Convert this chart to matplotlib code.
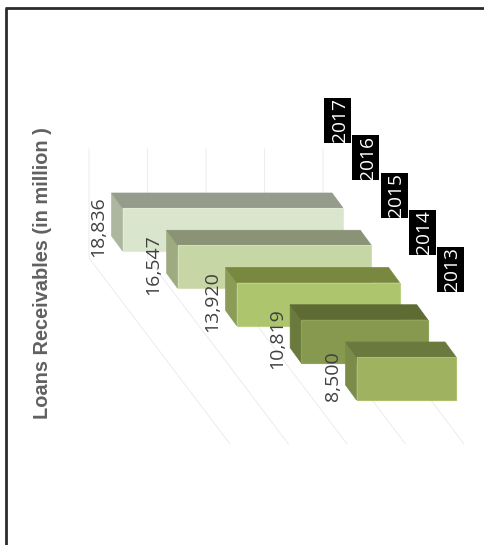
import matplotlib
matplotlib.use("Agg")
import matplotlib.pyplot as plt
from matplotlib.patches import Polygon, Rectangle
from matplotlib.lines import Line2D

# Data
years = ["2017", "2016", "2015", "2014", "2013"]
values = [18836, 16547, 13920, 10819, 8500]
value_labels = ["18,836", "16,547", "13,920", "10,819", "8,500"]
grid_values = [0, 5000, 10000, 15000, 20000]
axis_title = "Loans Receivables (in million )"

front_colors = ["#d9e5cc", "#c6d6a5", "#adc66d", "#86994f", "#9fb25f"]
top_colors = ["#969c8c", "#8a9375", "#78893f", "#5e6b33", "#6a7a3f"]
side_colors = ["#adb79f", "#9eaa80", "#8a9c55", "#6a7a3c", "#7a8c48"]
edge_colors = ["#e2ebd8", "#d2dfb8", "#bcd184", "#8fa35a", "#adc06c"]

W, H = 484, 545
PX_PER_VALUE = 0.0117      # px per value unit
PX_BAND = 37.25            # px per category step
BASE_PX = 343.0            # x px of zero for the first bar
TOP_PX = 208.0             # y px of the first bar's front top

fig = plt.figure(figsize=(W / 100, H / 100), dpi=100)
ax = fig.add_axes([0, 0, 1, 1])
ax.set_xlim(BASE_PX / PX_PER_VALUE, (BASE_PX - W) / PX_PER_VALUE)
ax.set_ylim((H - TOP_PX) / PX_BAND, -TOP_PX / PX_BAND)
ax.axis("off")

SHIFT_X = -28.25 / PX_PER_VALUE   # shift per category
DEPTH_X = 11.0 / PX_PER_VALUE     # depth shear, value units
DEPTH_Y = -15.0 / PX_BAND         # depth shear, band units
BAR_H = 43.0 / PX_BAND
GRID_SHIFT = 20.0 / PX_PER_VALUE
GRID_TOP = -59.0 / PX_BAND
GRID_MID = 50.0 / PX_BAND
GRID_END = 236.0 / PX_BAND
GRID_RUN = -141.0 / PX_PER_VALUE
BOX_W = 27.0 / PX_PER_VALUE
BOX_H = 45.0 / PX_BAND

# Gridlines: back wall and floor
for g in grid_values:
    xb = g + GRID_SHIFT
    ax.plot([xb, xb, xb + GRID_RUN], [GRID_TOP, GRID_MID, GRID_END],
            color="#ececec", lw=0.7, zorder=1, solid_joinstyle="miter")

# Bars
for i, (v, f, t, s, e) in enumerate(zip(values, front_colors, top_colors, side_colors, edge_colors)):
    x0 = i * SHIFT_X          # zero end
    x1 = x0 + v               # value end
    y0 = float(i)
    y1 = y0 + BAR_H
    dx, dy = DEPTH_X, DEPTH_Y
    z = 2 + i
    ax.add_patch(Polygon([(x1, y0), (x1 + dx, y0 + dy), (x1 + dx, y1 + dy), (x1, y1)],
                         closed=True, fc=s, ec=s, lw=0.5, zorder=z))
    ax.add_patch(Polygon([(x1, y0), (x1 + dx, y0 + dy), (x0 + dx, y0 + dy), (x0, y0)],
                         closed=True, fc=t, ec=t, lw=0.5, zorder=z))
    ax.add_patch(Polygon([(x1, y0), (x0, y0), (x0, y1), (x1, y1)],
                         closed=True, fc=f, ec=e, lw=0.8, zorder=z))
    # value label
    ax.text(x1 + dx + 13.0 / PX_PER_VALUE, y0 + 19.0 / PX_BAND, value_labels[i],
            rotation=90, ha="center", va="center", family="Open Sans",
            fontsize=14, color="#404040", zorder=20)
    # year label on its black box
    cx = x0 + 5.5 / PX_PER_VALUE
    cy = y0 - 87.5 / PX_BAND
    ax.add_patch(Rectangle((cx - BOX_W / 2, cy - BOX_H / 2), BOX_W, BOX_H,
                           fc="black", ec="none", zorder=20))
    ax.text(cx - 2.0 / PX_PER_VALUE, cy, years[i], rotation=90, ha="center", va="center",
            family="Open Sans", fontsize=13.8, color="white", zorder=21)

# Axis title
fig.text(42.5 / W, 1 - 273 / H, axis_title, rotation=90, ha="center", va="center",
         family="Liberation Sans", fontweight="bold", fontsize=14.4, color="#616161")

# Outer frame
fig.add_artist(Line2D([6.3 / W, 6.3 / W], [0, 1 - 7.5 / H], color="#2b2b2b", lw=2.0,
                      solid_capstyle="butt"))
fig.add_artist(Line2D([5.3 / W, 1], [1 - 7.5 / H, 1 - 7.5 / H], color="#2b2b2b", lw=2.0,
                      solid_capstyle="butt"))

fig.savefig("out.png", dpi=100, facecolor="white")
